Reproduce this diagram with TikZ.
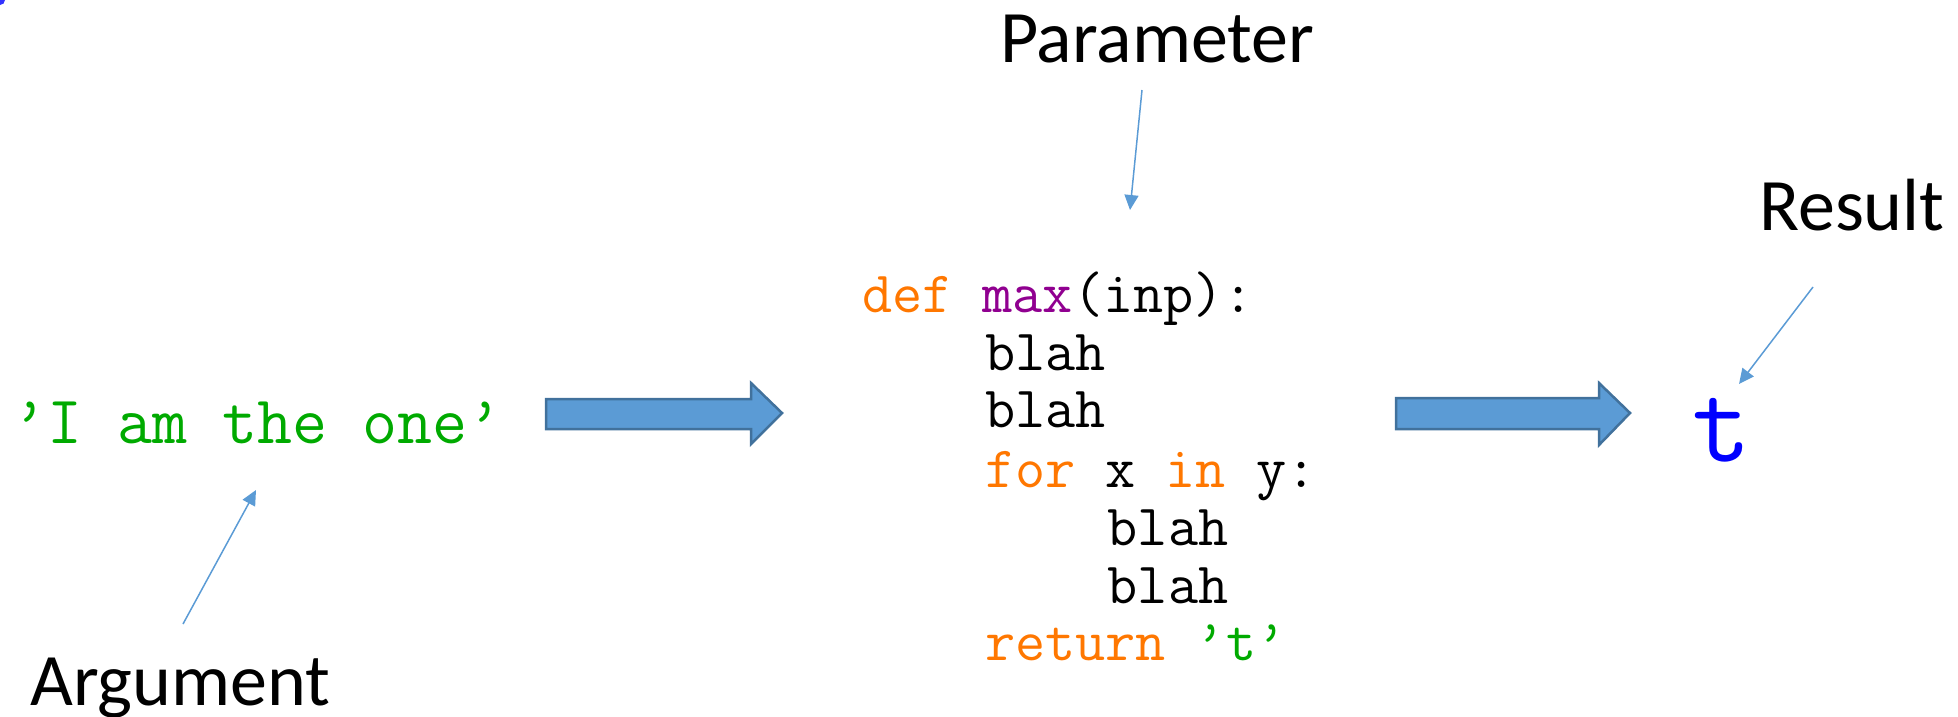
\documentclass[tikz,border=0pt]{standalone}
\usepackage{fontspec}
\setmainfont{Carlito}
\usetikzlibrary{arrows.meta}
\definecolor{kw}{HTML}{FF7700}
\definecolor{bi}{HTML}{900090}
\definecolor{str}{HTML}{00AA00}
\definecolor{outb}{HTML}{0000FF}
\definecolor{afill}{HTML}{5B9BD5}
\definecolor{aline}{HTML}{41719C}
\tikzset{
  label/.style={anchor=base west, inner sep=0pt, font=\fontsize{74}{80}\selectfont},
  codeline/.style={anchor=base west, inner sep=0pt, font=\ttfamily\fontsize{58.5}{60}\selectfont},
  thin/.style={draw=afill, line width=1.5pt, -{Triangle[length=15pt,width=14pt]}},
  block/.style={fill=afill, draw=aline, line width=2.5pt, line join=miter}
}
\begin{document}
\begin{tikzpicture}[x=1pt,y=-1pt]
\useasboundingbox (0,0) rectangle (1958,716);
\fill[outb!80] (0,0) circle (5);
% labels
\node[label] (param) at (1000,62) {Parameter};
\node[label] (arg) at (30,705) {Argument};
\node[label] (res) at (1759,230) {Result};
% argument string
\node[anchor=base west, inner sep=0pt, font=\ttfamily\fontsize{68}{70}\selectfont, text=str] (argstr) at (12,443) {’I am the one’};
% code
\node[codeline] (c1) at (862,312) {{\color{kw}def} {\color{bi}max}(inp):};
\node[codeline] (c2) at (984.8,370) {blah};
\node[codeline] (c3) at (984.8,427) {blah};
\node[codeline] (c4) at (984.8,487) {{\color{kw}for} x {\color{kw}in} y:};
\node[codeline] (c5) at (1107.6,545) {blah};
\node[codeline] (c6) at (1107.6,603) {blah};
\node[codeline] (c7) at (984.8,660) {{\color{kw}return} {\color{str}’t’}};
% result
\node[anchor=base west, inner sep=0pt, font=\ttfamily\fontsize{114}{114}\selectfont, text=outb] (rt) at (1692,461) {t};
% block arrows
\draw[block] (546,399) -- (751,399) -- (751,383) -- (782,413) -- (751,444) -- (751,429) -- (546,429) -- cycle;
\draw[block] (1396,398) -- (1599,398) -- (1599,383) -- (1630,413) -- (1599,445) -- (1599,429) -- (1396,429) -- cycle;
% thin arrows
\coordinate (pa) at (1142,90);
\coordinate (pb) at (1130,210);
\coordinate (aa) at (183,624);
\coordinate (ab) at (256,490);
\coordinate (ra) at (1813,287);
\coordinate (rb) at (1739,384);
\draw[thin] (pa) -- (pb);
\draw[thin] (aa) -- (ab);
\draw[thin] (ra) -- (rb);
\end{tikzpicture}
\end{document}
